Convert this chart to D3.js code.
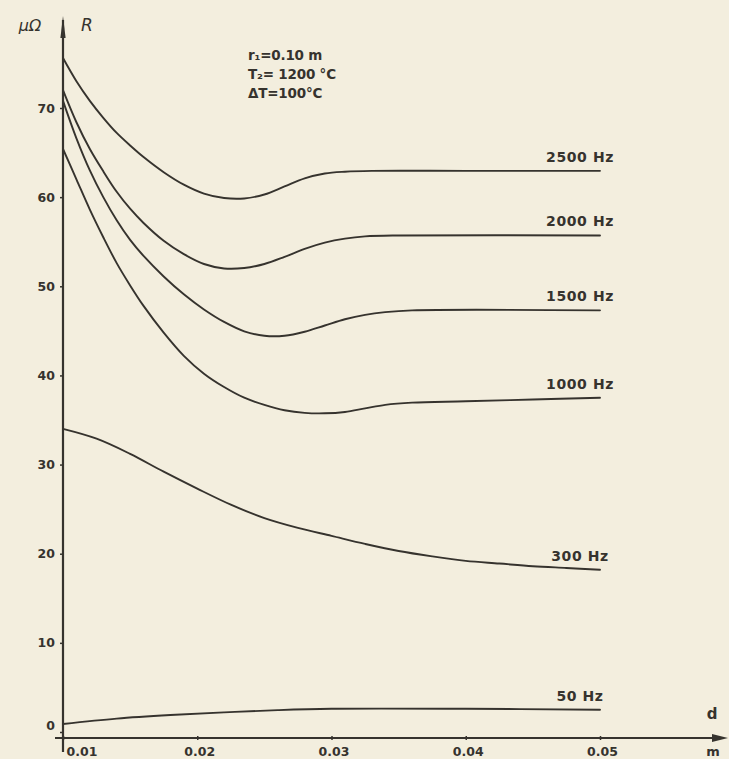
<!DOCTYPE html>
<html>
<head>
<meta charset="utf-8">
<script src="https://cdn.jsdelivr.net/npm/d3@7/dist/d3.min.js"></script>
<style>
  html, body { margin: 0; padding: 0; background: #f3eede; }
  svg { display: block; }
  text { font-family: "DejaVu Sans", "Liberation Sans", sans-serif; fill: #36332e; }
</style>
</head>
<body>
<svg id="chart" width="729" height="759"></svg>
<script>
// Thickness d (m) against resistance R (µΩ) for several frequencies
const dTicks = [0.01, 0.02, 0.03, 0.04, 0.05];
const rTicks = [0, 10, 20, 30, 40, 50, 60, 70];

const r2500 = [[0.010,75.6],[0.011,73.0],[0.012,70.8],[0.013,68.9],[0.014,67.2],[0.015,65.8],
               [0.016,64.5],[0.0175,62.8],[0.019,61.4],[0.0205,60.4],[0.022,59.9],[0.0235,59.85],
               [0.025,60.3],[0.0265,61.2],[0.028,62.1],[0.0295,62.65],[0.031,62.85],[0.033,62.95],
               [0.040,62.95],[0.050,62.95]];
const r2000 = [[0.010,72.0],[0.011,68.4],[0.012,65.4],[0.013,62.9],[0.014,60.6],[0.015,58.7],
               [0.016,57.1],[0.0175,55.1],[0.019,53.6],[0.0205,52.5],[0.022,52.0],[0.0235,52.05],
               [0.025,52.5],[0.0265,53.3],[0.028,54.2],[0.0295,54.9],[0.031,55.35],[0.0325,55.6],
               [0.035,55.7],[0.050,55.7]];
const r1500 = [[0.010,70.8],[0.011,66.6],[0.012,63.0],[0.013,60.0],[0.014,57.4],[0.015,55.2],
               [0.016,53.4],[0.0175,51.1],[0.019,49.1],[0.0205,47.4],[0.022,46.0],[0.0235,44.95],
               [0.025,44.45],[0.0265,44.45],[0.028,44.9],[0.0295,45.6],[0.031,46.3],[0.0325,46.8],
               [0.034,47.1],[0.036,47.3],[0.050,47.3]];
const r1000 = [[0.010,65.4],[0.011,62.0],[0.012,58.6],[0.013,55.5],[0.014,52.6],[0.015,50.1],
               [0.016,47.8],[0.0175,44.8],[0.019,42.2],[0.0205,40.2],[0.022,38.7],[0.0235,37.5],
               [0.025,36.7],[0.0265,36.1],[0.028,35.8],[0.0295,35.75],[0.031,35.9],[0.0325,36.3],
               [0.034,36.7],[0.036,36.95],[0.040,37.1],[0.045,37.3],[0.050,37.5]];
const r300  = [[0.010,34.0],[0.0125,32.9],[0.015,31.2],[0.0175,29.2],[0.020,27.3],[0.0225,25.5],
               [0.025,24.0],[0.0275,22.9],[0.030,22.0],[0.0325,21.1],[0.035,20.3],[0.0375,19.7],
               [0.040,19.2],[0.0425,18.9],[0.045,18.6],[0.0475,18.4],[0.050,18.2]];
const r50   = [[0.010,0.9],[0.014,1.5],[0.018,1.9],[0.022,2.2],[0.026,2.45],[0.030,2.6],
               [0.040,2.6],[0.050,2.5]];

const seriesLabels = ["2500 Hz", "2000 Hz", "1500 Hz", "1000 Hz", "300 Hz", "50 Hz"];
const seriesValues = [r2500, r2000, r1500, r1000, r300, r50];

const notes = ["r\u2081=0.10 m", "T\u2082= 1200 °C", "\u0394T=100°C"];

const ink = "#36332e";
const svg = d3.select("#chart");

const x = d3.scaleLinear().domain([0.01, 0.05]).range([63, 600]);
const y = d3.scaleLinear().domain([0, 70]).range([732, 108]);
const axisY = 738;

// vertical axis with a narrow arrow tip
svg.append("line").attr("x1", 63).attr("x2", 63).attr("y1", 20).attr("y2", 752)
  .attr("stroke", ink).attr("stroke-width", 2.2);
svg.append("path").attr("d", "M63,16 L65.6,38 L60.4,38 Z").attr("fill", ink);

// horizontal axis with arrow head
svg.append("line").attr("x1", 55).attr("x2", 716).attr("y1", axisY).attr("y2", axisY)
  .attr("stroke", ink).attr("stroke-width", 2.2);
svg.append("path").attr("d", `M728,${axisY} L712,${axisY - 4} L712,${axisY + 4} Z`).attr("fill", ink);

// y ticks
const gy = svg.append("g").attr("transform", "translate(63,0)")
  .call(d3.axisLeft(y).tickValues(rTicks).tickSize(3).tickPadding(5).tickFormat(d3.format("d")));
gy.select(".domain").remove();
gy.selectAll(".tick line").attr("stroke", ink).attr("stroke-width", 1.5);
gy.selectAll(".tick text").style("font-size", "12.5px").style("font-weight", "bold").attr("fill", ink)
  .attr("dy", d => d === 0 ? "-0.2em" : "0.32em");

// x ticks
const gx = svg.append("g").attr("transform", `translate(0,${axisY})`)
  .call(d3.axisBottom(x).tickValues(dTicks).tickSize(3).tickPadding(6).tickFormat(d3.format(".2f")));
gx.select(".domain").remove();
gx.selectAll(".tick line").attr("stroke", ink).attr("stroke-width", 1.5).attr("y1", -2).attr("y2", 2);
gx.selectAll(".tick text").style("font-size", "12.5px").style("font-weight", "bold").attr("fill", ink)
  .attr("text-anchor", (d, i) => i === 0 ? "start" : "middle")
  .attr("dx", (d, i) => i === 0 ? 3 : 2);

// axis names
svg.append("text").attr("x", 30).attr("y", 31).attr("text-anchor", "middle")
  .style("font-size", "16px").style("font-style", "italic").text("\u03bc\u03a9");
svg.append("text").attr("x", 87).attr("y", 31).attr("text-anchor", "middle")
  .style("font-size", "17px").style("font-style", "italic").text("R");
svg.append("text").attr("x", 712).attr("y", 719).attr("text-anchor", "middle")
  .style("font-size", "15px").style("font-weight", "bold").text("d");
svg.append("text").attr("x", 713).attr("y", 756).attr("text-anchor", "middle")
  .style("font-size", "13px").style("font-weight", "bold").text("m");

// parameter notes
svg.append("g").selectAll("text").data(notes).join("text")
  .attr("x", 248).attr("y", (d, i) => 60 + i * 19)
  .style("font-size", "13.5px").style("font-weight", "bold").style("letter-spacing", "-0.2px")
  .text(d => d);

// curves
const line = d3.line().x(d => x(d[0])).y(d => y(d[1])).curve(d3.curveCatmullRom.alpha(0.5));
svg.append("g").selectAll("path").data(seriesValues).join("path")
  .attr("d", line).attr("fill", "none").attr("stroke", ink).attr("stroke-width", 1.9)
  .attr("stroke-linecap", "round");

// curve labels above their right ends
svg.append("g").selectAll("text").data(seriesValues).join("text")
  .attr("x", d => x(d[d.length - 1][0]) - 20)
  .attr("y", d => y(d[d.length - 1][1]) - 9)
  .attr("text-anchor", "middle")
  .style("font-size", "14px").style("font-weight", "bold").style("letter-spacing", "0.6px")
  .text((d, i) => seriesLabels[i]);
</script>
</body>
</html>
